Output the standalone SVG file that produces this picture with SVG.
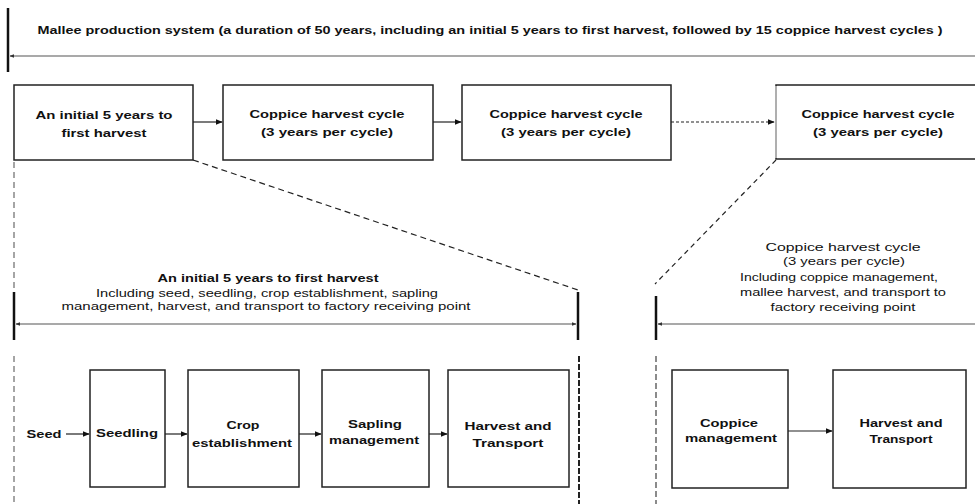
<svg xmlns="http://www.w3.org/2000/svg" width="975" height="504" viewBox="0 0 975 504">
<defs>
<marker id="ah" viewBox="0 0 10 10" refX="9" refY="5" markerWidth="6" markerHeight="6" orient="auto"><path d="M0,1 L10,5 L0,9 z" fill="#111"/></marker>
<marker id="dim" viewBox="0 0 10 10" refX="9" refY="5" markerWidth="4" markerHeight="4" orient="auto-start-reverse"><path d="M0,1 L10,5 L0,9 z" fill="#333"/></marker>
</defs>
<style>
text{font-family:"Liberation Sans",Arial,sans-serif;font-size:11.5px;fill:#111;text-anchor:middle}
.b{font-weight:bold}
.box{fill:#fff;stroke:#222;stroke-width:1.5}
.bar{stroke:#111;stroke-width:2.5}
.dim{stroke:#555;stroke-width:1.2;fill:none}
.cn{stroke:#222;stroke-width:1.2;fill:none}
</style>
<rect width="975" height="504" fill="#fff"/>
<g id="overall">
<line class="bar" x1="8" y1="8" x2="8" y2="72"/>
<line class="dim" x1="10" y1="56" x2="975" y2="56" marker-start="url(#dim)" stroke-width="1.6"/>
<text class="b" x="490" y="34" font-size="11" textLength="905" lengthAdjust="spacingAndGlyphs">Mallee production system (a duration of 50 years, including an initial 5 years to first harvest, followed by 15 coppice harvest cycles )</text>
</g>
<g id="connectors">
<line class="cn" x1="193" y1="122" x2="222" y2="122" marker-end="url(#ah)"/>
<line class="cn" x1="433" y1="122" x2="461" y2="122" marker-end="url(#ah)"/>
<line class="cn" x1="671" y1="122" x2="774" y2="122" stroke-dasharray="3,2" marker-end="url(#ah)"/>
<line class="cn" x1="193" y1="160" x2="578" y2="290" stroke-dasharray="6,4"/>
<line class="cn" x1="776" y1="160" x2="655" y2="284" stroke-dasharray="5,4"/>
<line x1="14" y1="162" x2="14" y2="290" stroke="#888" stroke-width="1.5" stroke-dasharray="6,4"/>
<line x1="14" y1="356" x2="14" y2="504" stroke="#888" stroke-width="1.5" stroke-dasharray="6,4"/>
<line x1="579" y1="356" x2="579" y2="504" stroke="#222" stroke-width="2" stroke-dasharray="6,2"/>
<line x1="656" y1="356" x2="656" y2="504" stroke="#666" stroke-width="1.5" stroke-dasharray="6,3"/>
<line class="cn" x1="66" y1="434" x2="89" y2="434" marker-end="url(#ah)"/>
<line class="cn" x1="165" y1="434" x2="187" y2="434" marker-end="url(#ah)"/>
<line class="cn" x1="299" y1="434" x2="321" y2="434" marker-end="url(#ah)"/>
<line class="cn" x1="429" y1="434" x2="447" y2="434" marker-end="url(#ah)"/>
<line class="cn" x1="788" y1="431" x2="832" y2="431" marker-end="url(#ah)"/>
</g>
<g id="top1"><rect class="box" x="14" y="85" width="179" height="75"/><text class="b" x="104" y="119" textLength="137" lengthAdjust="spacingAndGlyphs">An initial 5 years to</text><text class="b" x="104" y="137" textLength="85" lengthAdjust="spacingAndGlyphs">first harvest</text></g>
<g id="top2"><rect class="box" x="223" y="85" width="210" height="75"/><text class="b" x="327" y="118" textLength="155" lengthAdjust="spacingAndGlyphs">Coppice harvest cycle</text><text class="b" x="327" y="136" textLength="132" lengthAdjust="spacingAndGlyphs">(3 years per cycle)</text></g>
<g id="top3"><rect class="box" x="462" y="85" width="209" height="75"/><text class="b" x="566" y="118" textLength="153" lengthAdjust="spacingAndGlyphs">Coppice harvest cycle</text><text class="b" x="566" y="136" textLength="130" lengthAdjust="spacingAndGlyphs">(3 years per cycle)</text></g>
<g id="top4"><rect x="776" y="85" width="205" height="74" fill="#fff" stroke="#222" stroke-width="1.5"/><line x1="776" y1="86" x2="776" y2="158" stroke="#ccc" stroke-width="1.5"/><text class="b" x="878" y="118" textLength="153" lengthAdjust="spacingAndGlyphs">Coppice harvest cycle</text><text class="b" x="878" y="136" textLength="130" lengthAdjust="spacingAndGlyphs">(3 years per cycle)</text></g>
<g id="span-left">
<line class="bar" x1="14" y1="292" x2="14" y2="340"/>
<line class="bar" x1="578" y1="292" x2="578" y2="340"/>
<line class="dim" x1="16" y1="324" x2="576" y2="324" marker-start="url(#dim)" marker-end="url(#dim)"/>
<text class="b" x="268" y="282" textLength="221" lengthAdjust="spacingAndGlyphs">An initial 5 years to first harvest</text>
<text x="267" y="297" textLength="342" lengthAdjust="spacingAndGlyphs">Including seed, seedling, crop establishment, sapling</text>
<text x="266" y="310" textLength="409" lengthAdjust="spacingAndGlyphs">management, harvest, and transport to factory receiving point</text>
</g>
<g id="span-right">
<line class="bar" x1="656" y1="296" x2="656" y2="340"/>
<line class="dim" x1="658" y1="324" x2="975" y2="324" marker-start="url(#dim)"/>
<text x="843" y="251" textLength="155" lengthAdjust="spacingAndGlyphs">Coppice harvest cycle</text>
<text x="844" y="265" textLength="122" lengthAdjust="spacingAndGlyphs">(3 years per cycle)</text>
<text x="839" y="281" textLength="198" lengthAdjust="spacingAndGlyphs">Including coppice management,</text>
<text x="843" y="296" textLength="206" lengthAdjust="spacingAndGlyphs">mallee harvest, and transport to</text>
<text x="843" y="311" textLength="145" lengthAdjust="spacingAndGlyphs">factory receiving point</text>
</g>
<g id="seed"><text class="b" x="44" y="438" textLength="35" lengthAdjust="spacingAndGlyphs">Seed</text></g>
<g id="seedling"><rect class="box" x="90" y="370" width="75" height="117"/><text class="b" x="127" y="437" textLength="62" lengthAdjust="spacingAndGlyphs">Seedling</text></g>
<g id="crop"><rect class="box" x="188" y="370" width="111" height="117"/><text class="b" x="243" y="429" textLength="33" lengthAdjust="spacingAndGlyphs">Crop</text><text class="b" x="242" y="447" textLength="100" lengthAdjust="spacingAndGlyphs">establishment</text></g>
<g id="sapling"><rect class="box" x="322" y="370" width="107" height="117"/><text class="b" x="375" y="428" textLength="54" lengthAdjust="spacingAndGlyphs">Sapling</text><text class="b" x="374" y="444" textLength="90" lengthAdjust="spacingAndGlyphs">management</text></g>
<g id="harvest1"><rect class="box" x="448" y="370" width="121" height="117"/><text class="b" x="508" y="430" textLength="87" lengthAdjust="spacingAndGlyphs">Harvest and</text><text class="b" x="508" y="447" textLength="71" lengthAdjust="spacingAndGlyphs">Transport</text></g>
<g id="coppice"><rect class="box" x="672" y="370" width="116" height="118"/><text class="b" x="729" y="427" textLength="58" lengthAdjust="spacingAndGlyphs">Coppice</text><text class="b" x="731" y="442" textLength="92" lengthAdjust="spacingAndGlyphs">management</text></g>
<g id="harvest2"><rect class="box" x="833" y="370" width="133" height="118"/><text class="b" x="901" y="427" textLength="83" lengthAdjust="spacingAndGlyphs">Harvest and</text><text class="b" x="901" y="443" textLength="63" lengthAdjust="spacingAndGlyphs">Transport</text></g>
</svg>
